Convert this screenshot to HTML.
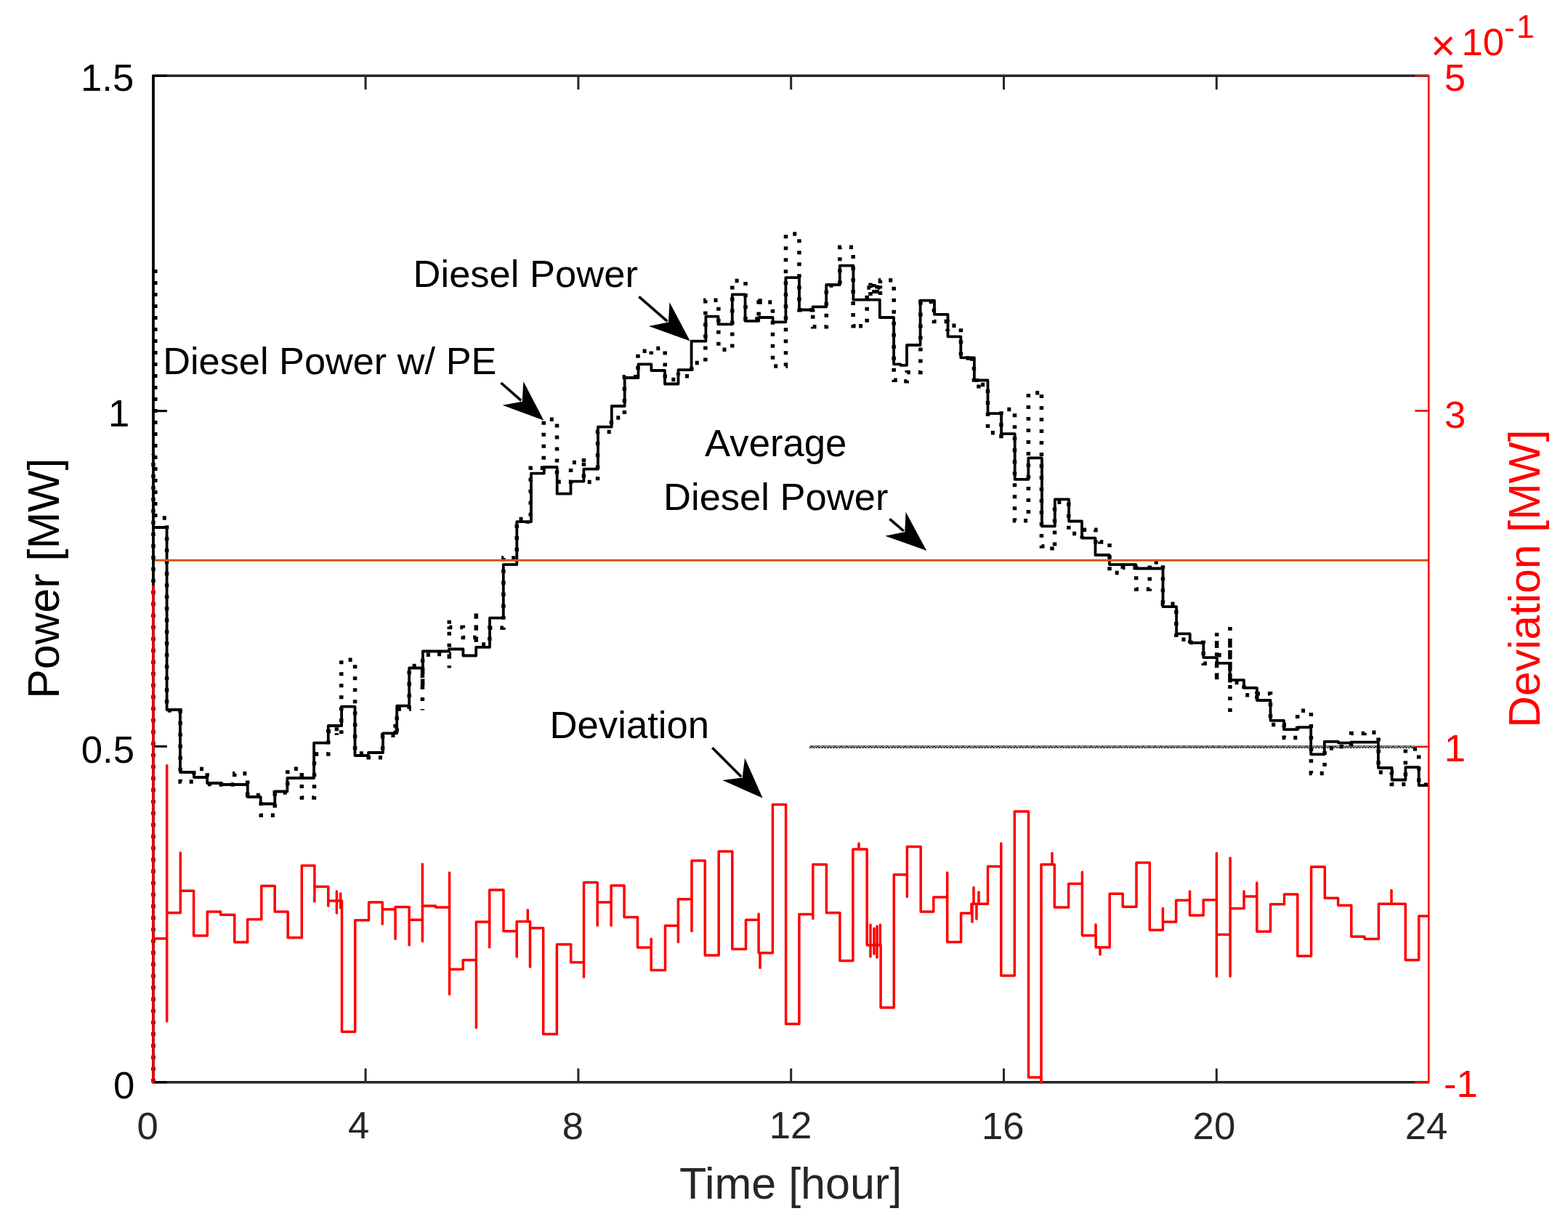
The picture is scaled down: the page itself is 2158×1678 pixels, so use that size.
<!DOCTYPE html><html><head><meta charset="utf-8"><title>Diesel Power</title><style>html,body{margin:0;padding:0;background:#fff;overflow:hidden;}svg{display:block;}</style></head><body><svg width="2158" height="1678" viewBox="0 0 2158 1678" font-family="Liberation Sans, Arial, sans-serif"><defs><pattern id="chk" x="1115" y="1026" width="8" height="4" patternUnits="userSpaceOnUse"><rect x="0" y="0" width="1" height="1"/><rect x="0" y="2" width="1" height="1"/><rect x="0" y="3" width="1" height="1"/><rect x="1" y="1" width="1" height="1"/><rect x="1" y="3" width="1" height="1"/><rect x="2" y="0" width="1" height="1"/><rect x="2" y="1" width="1" height="1"/><rect x="2" y="2" width="1" height="1"/><rect x="3" y="1" width="1" height="1"/><rect x="3" y="3" width="1" height="1"/><rect x="4" y="0" width="1" height="1"/><rect x="4" y="2" width="1" height="1"/><rect x="4" y="3" width="1" height="1"/><rect x="5" y="1" width="1" height="1"/><rect x="5" y="3" width="1" height="1"/><rect x="6" y="0" width="1" height="1"/><rect x="6" y="2" width="1" height="1"/><rect x="7" y="1" width="1" height="1"/><rect x="7" y="3" width="1" height="1"/></pattern></defs><rect width="2158" height="1678" fill="#fff"/><path d="M211 1490V625M213.8 371V713H229.6V978.04H248.15V1011.12V1076.08H266.8V1058.4H285.25V1079.6H304.3V1079.92H322.8V1064.8H340.7V1094.4H359.25V1122.3H378.25V1091.1H395.8V1058.32H415.3V1097.96H432.5V1078.2V1037.96H451.8V1027.4V1006.64H463.4V1011.8V999.8V1006.64H469.77V1010.6V1002.6V908.22H488.6V1036.92H507.3V1042.8H526.65V1030.8V1012.22H544.1V995.9V1013.5H546.2V975.9H563.2V954.9V916.58H581.65V947.3V904.82V901.3H599.6V900.5H618.3V919.58V852.62V863.38H637.3V877.5H655.3V840.18V886.94H673.85V872.9V864.24H692.9V768.08H711.25V754V714.4H726.3V720.68V714.4H730.25V689.4V644.2H748.25V577.24H766.55V663.3H785.6V636.42H803.45V628.3V663.38H822.6V639.7V594.4H841.45V581.6V575H859.4V518.64H878V483.28H896.3V488V479.44H915.25V522.42H933.45V513.38V517.68H951.8V500.08V499.42H970.85V413.2H988.85V481.24H1007.8V386.44H1026.05V438.88H1044.15V442.2V415.88H1046V407.72V415.88H1063.5V503.9H1081.5V321.9H1099.95V426.66H1118.7V424.26V449.86H1137.3V392.96H1155.85V340.3H1174.15V448.66H1182V451.9V448.66H1193.2V395.9H1198V407.1V389.5V395.9H1203V405.1V391.1V395.9H1207V406.3V389.1V395.9H1211.43V407.1V385.8H1230.2V523.3H1239.4V524.8H1248.2V512.6V512.44H1266.9V415.3H1285.4V442.4H1304.1V455.88V448.18H1322.45V493.06H1337.5V488.34V498.22H1340.45V507.22V529.42H1344V521.1V529.42H1347V535.9V529.42H1359.5V595.72H1377.95V608.4V563.5H1396.5V716.7H1415.4V540.8H1433.45V538V751.96H1448V758.16V751.96H1451.55V691.3H1470.85V734.54H1489.2V740.86V729.18H1507.9V735.22V746H1514V742V746H1527.05V788.62H1545.2V781.42H1563.65V811.06H1582.3V773.98H1600.45V785.86V831.24H1618.85V880.28H1637.6V885.2V884.44H1656.25V913.18H1674.65V938.94V871.1V901.8H1692.9V944.04V878.8V939.46H1712V948.9V956.86H1729.85V964.42V954.72H1748.5V997.48H1767.25V1015.44H1785.7V978.26H1804.4V1064.58H1823.05V1029.88H1841.75V1027.68H1859.55V1009.58H1878V1008.3H1897.15V1062.92H1915.3V1070.4V1079.42H1934.35V1031.1H1952.7V1080.3H1965M581.4 928V977.5M1692.9 863V981" fill="none" stroke="#000" stroke-width="5.5" stroke-dasharray="5 11"/><path d="M211.5 726H229.6V977H248V1063H267V1070H285.2V1078H305V1080H340.8V1097H358.7V1106.5H378.3V1089.5H395.4V1071H432.1V1022.6H451.8V999H470.1V972.7H488.5V1040H507V1036H527V1009.3H546.2V971.7H563.2V919.5H581.9V896.5H618V893.5H637.4V902.5H655.2V890.9H674V850.6H692.8V777.2H711.3V718.2H731V651.6H748.8V643H766.7V679.7H785.5V662.7H803.4V645.7H823V587.6H841.8V559H859.7V520H878.5V501.4H896.4V510H915V528.5H933.5V509.2H951.6V469.7H971.4V435.6H988.5V446.4H1007.8V405.4H1025.6V441.8H1044.2V437H1063.6V443.3H1081.4V382.1H1100V426.5H1118.6V422.3H1137.2V392H1155.8V365.7H1174.4V412.7H1210.8V437H1230.1V501.3H1239.4V502.8H1248V475H1266.6V413.7H1286V432.8H1304.5V463.3H1322.3V492.3H1340.9V523.5H1359.5V569.2H1378.1V597.1H1396.7V659.9H1415.3V630.4H1433.9V724.4H1451.8V687.3H1471.1V717.5H1489V740.7H1507.5V764H1526.9V777.1H1563.3V782.5H1600.5V835.2H1619.1V872.4H1637.7V884.8H1656.3V905.1H1674.9V912.8H1692.7V936.1H1712V946.9H1729.9V964H1748.5V991.8H1767V1004.2H1785.6V1001.1H1804.2V1038.3H1822.8V1020.8H1841.9V1022.6H1859.3V1021.7H1896.9V1057H1915.6V1073.5H1934.4V1056.1H1952.7V1081.1H1965" fill="none" stroke="#000" stroke-width="3.8" stroke-linejoin="round"/><line x1="211" y1="771.2" x2="1966" y2="771.2" stroke="#D95319" stroke-width="3"/><rect x="1114" y="1026" width="833" height="4" fill="url(#chk)" shape-rendering="crispEdges"/><line x1="211" y1="1489.8" x2="1966.3" y2="1489.8" stroke="#262626" stroke-width="3.4"/><line x1="211" y1="104.3" x2="1966.3" y2="104.3" stroke="#262626" stroke-width="3.4"/><line x1="211" y1="102.8" x2="211" y2="1491.3" stroke="#000" stroke-width="3.8"/><line x1="1966.3" y1="103.3" x2="1966.3" y2="1491.3" stroke="#FF0000" stroke-width="2.6"/><line x1="503.1" y1="1489.8" x2="503.1" y2="1470.8" stroke="#262626" stroke-width="3"/><line x1="503.1" y1="104.3" x2="503.1" y2="123.3" stroke="#262626" stroke-width="3"/><line x1="795.9" y1="1489.8" x2="795.9" y2="1470.8" stroke="#262626" stroke-width="3"/><line x1="795.9" y1="104.3" x2="795.9" y2="123.3" stroke="#262626" stroke-width="3"/><line x1="1088.7" y1="1489.8" x2="1088.7" y2="1470.8" stroke="#262626" stroke-width="3"/><line x1="1088.7" y1="104.3" x2="1088.7" y2="123.3" stroke="#262626" stroke-width="3"/><line x1="1381.5" y1="1489.8" x2="1381.5" y2="1470.8" stroke="#262626" stroke-width="3"/><line x1="1381.5" y1="104.3" x2="1381.5" y2="123.3" stroke="#262626" stroke-width="3"/><line x1="1674.3" y1="1489.8" x2="1674.3" y2="1470.8" stroke="#262626" stroke-width="3"/><line x1="1674.3" y1="104.3" x2="1674.3" y2="123.3" stroke="#262626" stroke-width="3"/><line x1="211" y1="104.3" x2="230" y2="104.3" stroke="#000" stroke-width="3"/><line x1="211" y1="565.7" x2="230" y2="565.7" stroke="#000" stroke-width="3"/><line x1="211" y1="1027.5" x2="230" y2="1027.5" stroke="#000" stroke-width="3"/><line x1="211" y1="1489.8" x2="230" y2="1489.8" stroke="#000" stroke-width="3"/><line x1="1966.3" y1="104.3" x2="1947.3" y2="104.3" stroke="#FF0000" stroke-width="2.6"/><line x1="1966.3" y1="565.5" x2="1947.3" y2="565.5" stroke="#FF0000" stroke-width="2.6"/><line x1="1966.3" y1="1027.9" x2="1947.3" y2="1027.9" stroke="#FF0000" stroke-width="2.6"/><line x1="1966.3" y1="1489.8" x2="1947.3" y2="1489.8" stroke="#FF0000" stroke-width="2.6"/><path d="M211 806V1490V1292H229.7V1053.7V1405.8V1256.4H248.3V1173.7V1226.3H266.6V1288H285.3V1255H303.6V1259.2H322.8V1297H340.6V1265.5H359.8V1219.5H378.2V1255H396.2V1290.7H415.3V1191.6H432.9V1241V1220.6H451.8V1247V1239.9H463.4V1227V1257V1239.9H468.7V1230V1250V1239.9H470.5V1420.2H488.7V1266.7H507.6V1242H526.3V1272V1251.7H544.1V1292.5V1248.5H563.2V1301V1266.3H581.4V1189.5V1295.7V1247H599.6V1249H618.6V1201.3V1368.7V1334.3H637.2V1321.5H655.4V1414.8V1268.9H673.7V1304V1224.9H693V1281.8H711.2V1317V1268.5H726.3V1252.8V1268.5H729.5V1331V1277.5H747.7V1423.4H766.4V1300H785.7V1324.7H803.5V1345V1214.8H822.2V1274V1242H841.1V1274V1219H859.1V1262.4H877.5V1304.3H896.2V1292.5V1335.4H915.5V1274.2H933.4V1296.8V1237.8H952V1281.8V1184.7H970.3V1315H989.2V1171.9H1007.8V1306.4H1026.5V1266.3H1044.1V1258V1311.8H1046V1332.2V1311.8H1063.4V1107.5H1081.6V1409.5H1099.9V1258.6H1118.8V1264.6V1190.1H1137.4V1256.6H1155.9V1322.5H1173.9V1169.1H1182V1161V1169.1H1193.2V1301H1198V1273V1317V1301H1203V1278V1313V1301H1207V1275V1318V1301H1211.4V1273V1301H1212.1V1387H1230.3V1204H1248.4V1234.5V1165.4H1267.2V1255H1284.8V1235H1303.7V1201.3V1296.8H1322.6V1257.1H1337V1244.2H1338V1268.9V1244.2H1340V1221.7V1244.2H1344V1265V1244.2H1347V1228V1244.2H1359.5V1192.7H1377.8V1161V1343H1396.3V1117H1415.5V1483H1433V1490V1190.1H1448V1174.6V1190.1H1451.3V1249H1470.6V1216.4H1489.4V1200.6V1287.8H1508V1272.7V1287.8H1508.2V1304H1514V1314V1304H1527.2V1230.2H1545.2V1248.2H1564V1187.6H1582.3V1280.3H1600.4V1250.6V1268.9H1618.6V1239.3H1637.5V1227V1259.9H1656.2V1238.8H1674.4V1174.4V1344V1286.5H1693.1V1180.9V1344V1250.6H1712V1227V1234.1H1729.8V1215.2V1282.2H1748.5V1244.8H1767.5V1230.9H1785.8V1316.1H1804.6V1193.3H1823.3V1236.3H1841.6V1246.3H1859.8V1289.3H1878V1292.5H1897.4V1244.2H1915V1225.5V1244.2H1934.3V1321.5H1952.7V1261H1966" fill="none" stroke="#FF0000" stroke-width="3.5" stroke-linejoin="round"/><text x="111" y="125" font-size="52.7" fill="#000">1.5</text><text x="149" y="587" font-size="52.7" fill="#000">1</text><text x="111.7" y="1049.7" font-size="52.7" fill="#000">0.5</text><text x="156" y="1511.5" font-size="52.7" fill="#000">0</text><text x="188.5" y="1567.5" font-size="52.7" fill="#262626">0</text><text x="479" y="1566.5" font-size="52.7" fill="#262626">4</text><text x="773.7" y="1567.5" font-size="52.7" fill="#262626">8</text><text x="1058.7" y="1566.5" font-size="52.7" fill="#262626">12</text><text x="1350.9" y="1567.5" font-size="52.7" fill="#262626">16</text><text x="1641.6" y="1567.5" font-size="52.7" fill="#262626">20</text><text x="1933.7" y="1567.5" font-size="52.7" fill="#262626">24</text><text x="1987.7" y="124.7" font-size="52.7" fill="#FF0000">5</text><text x="1988" y="588.7" font-size="52.7" fill="#FF0000">3</text><text x="1987.7" y="1047.7" font-size="52.7" fill="#FF0000">1</text><text x="1987" y="1510.2" font-size="52.7" fill="#FF0000">-1</text><text x="1969" y="83" font-size="59" fill="#FF0000">×</text><text x="2011.5" y="75.5" font-size="52.7" fill="#FF0000">10</text><text x="2069.7" y="52.7" font-size="44.7" fill="#FF0000">-</text><text x="2087" y="51.5" font-size="44.7" fill="#FF0000">1</text><text x="934.9" y="1650.1" font-size="61" fill="#262626">Time [hour]</text><text x="80.7" y="961.7" font-size="60.8" fill="#000" transform="rotate(-90 80.7 961.7)">Power [MW]</text><text x="2119" y="1001.7" font-size="60.5" fill="#FF0000" transform="rotate(-90 2119 1001.7)">Deviation [MW]</text><text x="568.6" y="395" font-size="52.5" fill="#000">Diesel Power</text><text x="224.2" y="514.5" font-size="52.3" fill="#000">Diesel Power w/ PE</text><text x="970.1" y="628" font-size="52.7" fill="#000">Average</text><text x="913.1" y="701.5" font-size="52.5" fill="#000">Diesel Power</text><text x="756.5" y="1016" font-size="52.7" fill="#000">Deviation</text><line x1="879.4" y1="408.3" x2="918.48" y2="442.27" stroke="#000" stroke-width="3.6"/><path d="M949.8 469.5L892.86 448.88L919.99 443.59L921.46 415.98Z" fill="#000"/><line x1="689.5" y1="527" x2="717.24" y2="551.39" stroke="#000" stroke-width="3.6"/><path d="M748.4 578.8L691.58 557.86L718.74 552.71L720.37 525.12Z" fill="#000"/><line x1="1224.4" y1="714.4" x2="1243.78" y2="731" stroke="#000" stroke-width="3.6"/><path d="M1275.3 758L1218.21 737.8L1245.3 732.3L1246.57 704.69Z" fill="#000"/><line x1="980.3" y1="1029.3" x2="1020.26" y2="1069.26" stroke="#000" stroke-width="3.6"/><path d="M1049.6 1098.6L994.23 1074.06L1021.67 1070.67L1025.06 1043.23Z" fill="#000"/></svg></body></html>
